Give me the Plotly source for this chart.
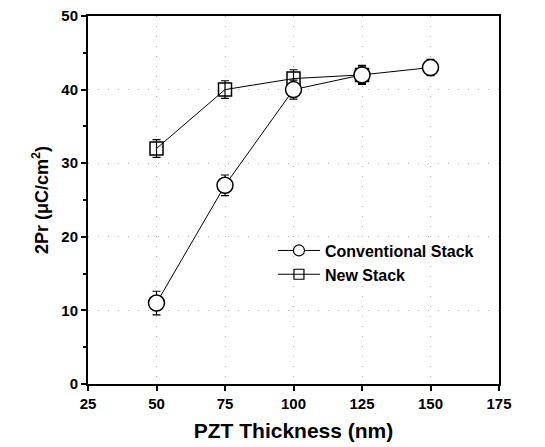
import plotly.graph_objects as go

thickness_conv = [50, 75, 100, 125, 150]
conv_2pr = [11, 27, 40, 42, 43]
conv_err = [1.6, 1.4, 1.3, 1.3, 1.1]

thickness_new = [50, 75, 100, 125]
new_2pr = [32, 40, 41.5, 42]
new_err = [1.2, 1.2, 1.2, 1.2]

x_ticks = [25, 50, 75, 100, 125, 150, 175]
y_ticks = [0, 10, 20, 30, 40, 50]

fig = go.Figure()
fig.add_trace(go.Scatter(
    x=thickness_new, y=new_2pr, mode="lines+markers", showlegend=False,
    line=dict(color="black", width=1),
    marker=dict(symbol="square-open", size=13, color="black", line=dict(width=1.5)),
    error_y=dict(type="data", array=new_err, color="black", thickness=1.2, width=4),
))
fig.add_trace(go.Scatter(
    x=thickness_conv, y=conv_2pr, mode="lines+markers", showlegend=False,
    line=dict(color="black", width=1),
    marker=dict(symbol="circle", size=16, color="white", line=dict(width=1.5, color="black")),
    error_y=dict(type="data", array=conv_err, color="black", thickness=1.2, width=4),
))
# legend-only entries with smaller symbols
fig.add_trace(go.Scatter(
    x=[None], y=[None], name="<b>Conventional Stack</b>", mode="lines+markers",
    line=dict(color="black", width=1),
    marker=dict(symbol="circle", size=11, color="white", line=dict(width=1.2, color="black")),
))
fig.add_trace(go.Scatter(
    x=[None], y=[None], name="<b>New Stack</b>", mode="lines+markers",
    line=dict(color="black", width=1),
    marker=dict(symbol="square-open", size=10, color="black", line=dict(width=1.2)),
))

font_family = "Liberation Sans, Arial, sans-serif"
grid = dict(showgrid=True, gridcolor="rgba(0,0,0,0.3)", griddash="1px,9px", gridwidth=1)
fig.update_layout(
    width=545, height=447,
    margin=dict(l=88, r=46, t=16, b=63),
    paper_bgcolor="white", plot_bgcolor="white",
    font=dict(family=font_family, color="black"),
    showlegend=True,
    legend=dict(x=0.45, y=0.33, xanchor="left", yanchor="middle",
                bgcolor="rgba(0,0,0,0)", itemwidth=42,
                font=dict(size=16, family=font_family, color="black"),
                tracegroupgap=0),
    xaxis=dict(
        range=[25, 175], tickvals=x_ticks, ticktext=[f"<b>{v}</b>" for v in x_ticks],
        showline=True, linecolor="black", linewidth=2, mirror=True,
        ticks="outside", ticklen=5, tickwidth=1.5, tickcolor="black",
        zeroline=False, automargin=False, **grid,
        tickfont=dict(size=15, family=font_family),
        title=dict(text="<b>PZT Thickness (nm)</b>", font=dict(size=21), standoff=12),
    ),
    yaxis=dict(
        range=[0, 50], tickvals=y_ticks, ticktext=[f"<b>{v}</b>" for v in y_ticks],
        showline=True, linecolor="black", linewidth=2, mirror=True,
        ticks="outside", ticklen=5, tickwidth=1.5, tickcolor="black",
        zeroline=False, automargin=False, **grid,
        tickfont=dict(size=15, family=font_family),
        title=dict(text="<b>2Pr (μC/cm<sup>2</sup>)</b>", font=dict(size=18), standoff=8),
        minor=dict(dtick=5, ticks="outside", ticklen=3, tickcolor="black", showgrid=False),
    ),
)

fig.write_html("out.html")
